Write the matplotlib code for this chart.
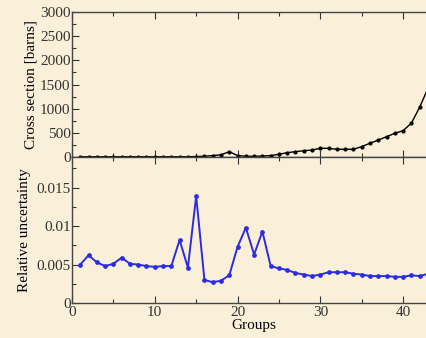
import matplotlib
matplotlib.use("Agg")
import matplotlib.pyplot as plt
from matplotlib.ticker import MultipleLocator, FuncFormatter

groups = list(range(1, 45))
cross_section = [5, 5, 5, 5, 5, 5, 5, 5, 5, 5, 5, 5, 5, 5, 10,
                 15, 30, 45, 110, 30, 15, 15, 20, 30, 55,
                 90, 110, 130, 145, 180, 180, 160, 160, 160, 215,
                 285, 350, 420, 490, 545, 700, 1030, 1420, 1900]
rel_unc = [0.0050, 0.0062, 0.0053, 0.0048, 0.0051, 0.0059, 0.0051, 0.0050, 0.0048, 0.0047,
           0.0048, 0.0048, 0.0082, 0.0046, 0.0139, 0.0030, 0.0027, 0.0029, 0.0036, 0.0073,
           0.0098, 0.0063, 0.0093, 0.0048, 0.0045, 0.0043, 0.0039, 0.0037, 0.0035, 0.0037,
           0.0040, 0.0040, 0.0040, 0.0038, 0.0037, 0.0035, 0.0035, 0.0035, 0.0034, 0.0034,
           0.0036, 0.0035, 0.0038, 0.0040]

bg = "#FAF0DA"
plt.rcParams['font.family'] = ['Liberation Serif', 'DejaVu Serif']
fig = plt.figure(figsize=(4.27, 3.38), dpi=100, facecolor=bg)

ax1 = fig.add_axes([0.1686, 0.5355, 0.853, 0.429], facecolor=bg)
ax2 = fig.add_axes([0.1686, 0.1036, 0.853, 0.432], facecolor=bg)

ax1.plot(groups, cross_section, color="black", lw=1.0, marker="o", ms=2.0)
ax2.plot(groups, rel_unc, color="#2B2BE0", lw=1.4, marker="o", ms=2.4)

for ax in (ax1, ax2):
    ax.set_xlim(0, 44)
    ax.xaxis.set_major_locator(MultipleLocator(10))
    ax.xaxis.set_minor_locator(MultipleLocator(5))
    ax.tick_params(which="both", direction="in", top=True, right=True,
                   labelsize=11, colors="#333333", width=0.8)
    ax.tick_params(which="major", length=5)
    ax.tick_params(which="minor", length=3)
    for s in ax.spines.values():
        s.set_color("#444444")
        s.set_linewidth(1.0)

ax1.set_ylim(0, 3000)
ax1.yaxis.set_major_locator(MultipleLocator(500))
ax1.yaxis.set_minor_locator(MultipleLocator(250))
ax1.tick_params(labelbottom=False, pad=1)
ax1.set_ylabel("Cross section [barns]", fontsize=11, labelpad=2)

ax2.set_ylim(0, 0.019)
ax2.yaxis.set_major_locator(MultipleLocator(0.005))
ax2.yaxis.set_minor_locator(MultipleLocator(0.0025))
ax2.yaxis.set_major_formatter(FuncFormatter(lambda v, p: "%g" % round(v, 4)))
ax2.tick_params(axis="y", pad=1)
ax2.tick_params(axis="x", pad=2)
ax2.set_ylabel("Relative uncertainty", fontsize=11, labelpad=4)
ax2.set_xlabel("Groups", fontsize=11, labelpad=0)

fig.savefig("out.png", dpi=100, facecolor=bg)
